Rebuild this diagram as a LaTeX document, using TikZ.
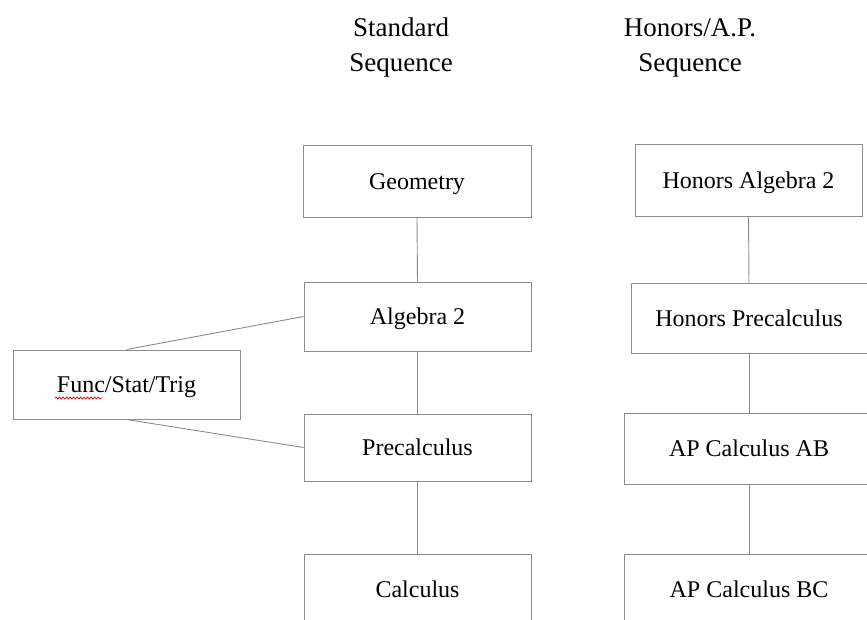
\documentclass[tikz,border=0pt]{standalone}
\usepackage{fontspec}
\setmainfont{Liberation Serif}
\usetikzlibrary{decorations.pathmorphing}
\definecolor{edgegray}{HTML}{8C8C8C}
\tikzset{
  course/.style={draw=edgegray, line width=1pt, inner sep=0pt, fill=white,
    font=\fontsize{24}{28}\selectfont, text height=16pt, text depth=0pt},
  link/.style={draw=edgegray, line width=0.9pt},
  header/.style={inner sep=0pt, align=center, font=\fontsize{27}{35}\selectfont},
  spell/.style={draw=red!85!black, line width=0.7pt,
    decorate, decoration={snake, amplitude=1pt, segment length=3.5pt}}
}
\begin{document}
\begin{tikzpicture}[x=1pt,y=-1pt]
\clip (0,0) rectangle (867,619);
\fill[white] (0,0) rectangle (867,619);
% headers
\node[header] (hstd) at (401,48) {Standard\\Sequence};
\node[header] (hhon) at (690,48) {Honors/A.P.\\Sequence};
% standard column
\node[course, minimum width=228pt, minimum height=72pt] (geo) at (417,181) {Geometry};
\node[course, minimum width=227pt, minimum height=69pt] (alg) at (417.5,316.5) {Algebra 2};
\node[course, minimum width=227pt, minimum height=67pt] (pre) at (417.5,447.5) {Precalculus};
\node[course, minimum width=227pt, minimum height=70pt] (calc) at (417.5,589) {Calculus};
% honors column
\node[course, minimum width=227pt, minimum height=72pt] (halg) at (748.5,180) {Honors Algebra 2};
\node[course, minimum width=236pt, minimum height=70pt] (hpre) at (749,318) {Honors Precalculus};
\node[course, minimum width=250pt, minimum height=71pt] (ab) at (749,448.5) {AP Calculus AB};
\node[course, minimum width=250pt, minimum height=70pt] (bc) at (749,589) {AP Calculus BC};
% side course
\node[course, minimum width=227pt, minimum height=69pt] (fst) at (126.5,384.5) {Func/Stat/Trig};
% connectors
\draw[link] (geo.south) -- (alg.north);
\draw[link] (alg.south) -- (pre.north);
\draw[link] (pre.south) -- (calc.north);
\draw[link] (halg.south) -- (hpre.north);
\draw[link] (hpre.south) -- (ab.north);
\draw[link] (ab.south) -- (bc.north);
\draw[link] (fst.north) -- (alg.west);
\draw[link] (fst.south) -- (pre.west);
% spell-check underline
\draw[spell] (55,398) -- (102,398);
\end{tikzpicture}
\end{document}
